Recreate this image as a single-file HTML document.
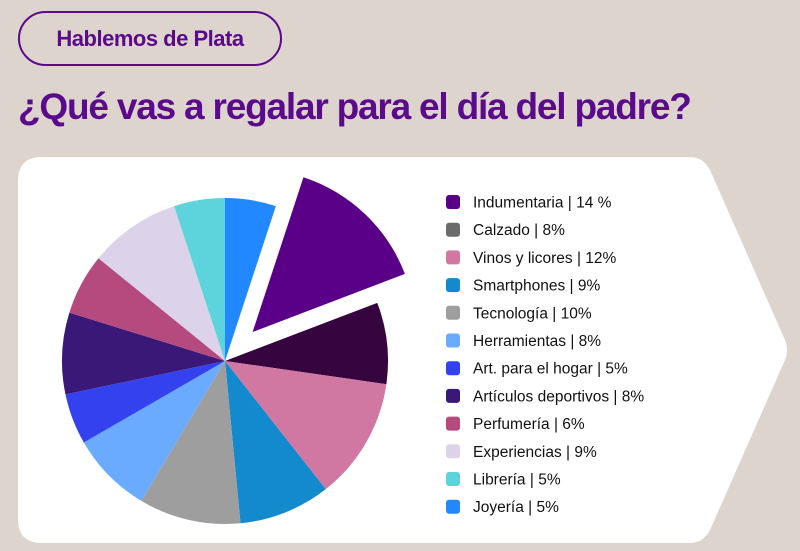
<!DOCTYPE html>
<html><head><meta charset="utf-8"><style>
body{margin:0;width:800px;height:551px;background:#ddd5cd;font-family:"Liberation Sans",sans-serif;overflow:hidden;position:relative}
.pill{position:absolute;left:18px;top:11px;width:264px;height:55px;border:2px solid #5a0a8a;border-radius:28px;box-sizing:border-box;color:#5a0a8a;font-size:22px;font-weight:bold;display:flex;align-items:center;justify-content:center;letter-spacing:-0.5px}
h1{position:absolute;left:18px;top:86px;margin:0;font-size:37px;color:#5a0a8a;font-weight:bold;letter-spacing:-1.2px}
svg{position:absolute;left:0;top:0}
</style></head><body>
<div class="pill">Hablemos de Plata</div>
<h1>¿Qué vas a regalar para el día del padre?</h1>
<svg width="800" height="551" id="chart">
<path d="M42,157 L690,157 Q703,157 710,170 L785,340 Q789,350 785,360 L710,530 Q703,543 690,543 L42,543 Q18,543 18,519 L18,181 Q18,157 42,157 Z" fill="#fff"/>
<g id="slices"></g><g id="legend"></g>
</svg>
<script>
const categories=["Joyería","Indumentaria","Calzado","Vinos y licores","Smartphones","Tecnología","Herramientas","Art. para el hogar","Artículos deportivos","Perfumería","Experiencias","Librería"];
const values=[5,14,8,12,9,10,8,5,8,6,9,5];
const sliceColors=["#2288ff","#5a0088","#36053f","#d078a2","#128acd","#9e9e9e","#6aaaff","#3341ef","#3a1878","#b54a7e","#dcd2ea","#5dd3dc"];
const legendOrder=["Indumentaria","Calzado","Vinos y licores","Smartphones","Tecnología","Herramientas","Art. para el hogar","Artículos deportivos","Perfumería","Experiencias","Librería","Joyería"];
const legendLabels=["Indumentaria | 14 %","Calzado | 8%","Vinos y licores | 12%","Smartphones | 9%","Tecnología | 10%","Herramientas | 8%","Art. para el hogar | 5%","Artículos deportivos | 8%","Perfumería | 6%","Experiencias | 9%","Librería | 5%","Joyería  | 5%"];
const legendColors=["#5a0088","#6b6b6b","#d078a2","#128acd","#9e9e9e","#6aaaff","#3341ef","#3a1878","#b54a7e","#dcd2ea","#5dd3dc","#2288ff"];
const exploded="Indumentaria";
const NS="http://www.w3.org/2000/svg";
const cx=225,cy=361,r=163,total=values.reduce((a,b)=>a+b,0);
const gS=document.getElementById('slices'),gL=document.getElementById('legend');
let a0=0;
values.forEach((v,i)=>{
  const a1=a0+v/total*2*Math.PI,mid=(a0+a1)/2;
  const off=categories[i]===exploded?40:0;
  const ox=cx+off*Math.sin(mid),oy=cy-off*Math.cos(mid);
  const x0=ox+r*Math.sin(a0),y0=oy-r*Math.cos(a0),x1=ox+r*Math.sin(a1),y1=oy-r*Math.cos(a1);
  const p=document.createElementNS(NS,'path');
  p.setAttribute('d',`M${ox},${oy} L${x0},${y0} A${r},${r} 0 ${a1-a0>Math.PI?1:0} 1 ${x1},${y1} Z`);
  p.setAttribute('fill',sliceColors[i]);
  
  
  gS.appendChild(p);a0=a1;
});
legendLabels.forEach((t,i)=>{
  const y=202+i*27.7;
  const rc=document.createElementNS(NS,'rect');
  rc.setAttribute('x',446);rc.setAttribute('y',y-7);rc.setAttribute('width',14);rc.setAttribute('height',14);rc.setAttribute('rx',3);rc.setAttribute('fill',legendColors[i]);
  
  
  gL.appendChild(rc);
  const tx=document.createElementNS(NS,'text');
  tx.setAttribute('x',473);tx.setAttribute('y',y+5.5);tx.setAttribute('font-size','15.5');tx.setAttribute('fill','#111');
  tx.setAttribute('font-family','Liberation Sans, sans-serif');
  tx.textContent=t;
  
  
  gL.appendChild(tx);
});
</script>
</body></html>
